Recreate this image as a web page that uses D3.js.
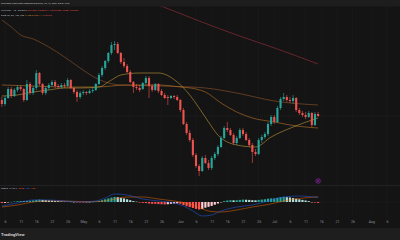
<!DOCTYPE html>
<html>
<head>
<meta charset="utf-8">
<script src="https://d3js.org/d3.v7.min.js"></script>
<style>
  html, body { margin: 0; padding: 0; background: #141414; }
  svg { display: block; font-family: Roboto, "Noto Sans", sans-serif; }
</style>
</head>
<body>
<svg id="chart" width="400" height="240"></svg>
<script>
// daily candles, first one on this day
var firstDay = "2024-04-05";

// [open, high, low, close]
var candles = [
  [76, 76.75, 74.25, 75], [75, 77, 74.5, 76.5], [76.5, 79.25, 76.25, 78.75], [78.75, 79.25, 76.5, 77],
  [77, 79, 76.75, 78.5], [78.5, 79.75, 78, 79.25], [79.25, 79.75, 78.25, 78.75], [78.75, 79, 75.5, 76],
  [76, 81, 75.75, 80], [80, 80.5, 77.25, 77.75], [77.75, 79.5, 77.25, 79], [79, 83.5, 78.5, 82.75],
  [82.75, 83, 79.5, 80], [80, 80.25, 77.25, 77.75], [77.75, 79.5, 77.25, 79], [79, 80.25, 78.5, 79.75],
  [79.75, 81, 79.25, 80.5], [80.5, 81, 79, 79.5], [79.5, 80, 78.75, 79.25], [79.25, 80.25, 78.75, 79.75],
  [79.75, 80.25, 79, 79.5], [79.5, 81.5, 79.25, 81], [81, 81.25, 78.75, 79], [79, 79.25, 77.5, 78],
  [78, 78.5, 75.5, 76.75], [76.75, 78.25, 76.25, 77.75], [77.75, 78.5, 77.25, 78], [78, 78.25, 77.25, 77.75],
  [77.75, 78.75, 77.5, 78.25], [78.25, 79, 77.75, 78.5], [78.5, 80.25, 78.25, 80], [80, 82.75, 79.75, 82.25],
  [82.25, 84.5, 81.75, 84], [84, 86, 83.5, 85.75], [85.75, 88, 85.25, 87.75], [87.75, 90.5, 87.25, 89.75],
  [89.75, 90.75, 88.5, 90], [90, 90.5, 87.5, 87.75], [87.75, 88, 85, 85.5], [85.5, 86.5, 84, 84.5],
  [84.5, 85, 82.75, 83], [83, 83.5, 80.25, 80.5], [80.5, 80.75, 77.75, 79.25], [79.25, 80, 78.5, 79],
  [79, 79.75, 78, 78.5], [78.75, 80.5, 78.5, 80.25], [80.25, 82, 79.75, 81.5], [81.5, 82, 76.5, 79.5],
  [79.5, 80, 78, 78.5], [78.5, 80.25, 78.25, 80], [80, 80.25, 77.75, 78.25], [78.25, 78.75, 77, 77.25],
  [77.25, 77.75, 76.25, 76.5], [76.75, 77.25, 74.75, 76.5], [76.5, 77.25, 76.25, 77], [77, 77.25, 76.25, 76.75],
  [76.75, 77.25, 75.75, 76], [76, 76.25, 73, 73.5], [73.5, 74, 69.75, 70], [70, 70.5, 67.25, 67.75],
  [67.75, 68.5, 65.5, 66], [66, 66.5, 61.75, 62.25], [62.25, 62.75, 59, 59.5], [59.5, 60, 57, 58.25],
  [58.25, 62, 58, 61.5], [61.5, 62.25, 60, 60.25], [60.25, 61, 58.5, 59], [59, 62, 58.5, 61.5],
  [61.5, 63, 61, 62.5], [62.5, 64.75, 62, 64.25], [64.25, 67, 64, 66.5], [66.5, 69.5, 66.25, 69],
  [69, 70.5, 68, 68.5], [68.5, 69, 67, 67.25], [67.25, 67.75, 64.75, 65.25], [65.25, 67, 64.75, 66.5],
  [66.5, 69, 66.25, 68.5], [68.5, 69, 67, 67.5], [67.5, 68, 65.75, 66], [66, 66.5, 64.25, 64.75],
  [64.75, 65.25, 60.25, 63], [63, 63.75, 62, 62.5], [62.5, 66.5, 62.25, 66], [66, 67.25, 65.25, 66.75],
  [66.75, 68, 66.25, 67.5], [67.5, 70.5, 67, 70], [70, 72.25, 69.5, 71.75], [71.75, 72.25, 70, 70.5],
  [70.5, 74.5, 70.25, 74], [74, 76.75, 73.5, 76.25], [76.25, 77.75, 75.75, 76.75], [76.75, 77.25, 75.5, 76],
  [76, 76.75, 75.25, 75.75], [75.75, 77.25, 75, 76.5], [76.5, 76.75, 73, 73.5], [73.5, 74, 72.25, 72.75],
  [72.75, 73.25, 71.75, 72.25], [72.25, 73, 71.25, 71.75], [71.75, 73.25, 71.5, 72.75], [72.75, 73, 69.25, 69.75],
  [69.75, 73, 69.5, 72.5], [72.5, 73, 71.75, 72]
];

// moving averages: [day index, value]
var ema20 = [[0, 77], [5, 77.25], [10, 78], [15, 78.5], [20, 79], [25, 79], [31, 79.25], [35, 81], [38, 82.25],
  [44, 82.75], [50, 82.75], [56, 80.5], [60, 77.25], [63, 74], [66, 70.5], [69, 67.25], [75, 64.75],
  [81, 64.25], [86, 66.75], [93, 69.25], [101, 71.5]];
var ema50 = [[0, 79.75], [10, 79.5], [20, 79.25], [30, 79.25], [40, 79.75], [50, 79.75], [57, 79.25],
  [62, 78.75], [65, 78], [70, 75.25], [75, 73], [80, 71.5], [87, 70.5], [94, 69.5], [101, 69]];
var ema100 = [[0, 96], [3, 94.25], [6, 92.25], [10, 91.25], [15, 89.25], [20, 86.75], [25, 84], [30, 81.5],
  [33, 80.5], [38, 79.75], [45, 79.6], [55, 79.4], [65, 79], [75, 77.75], [87, 75.75], [101, 74.75]];
var ema200 = [[40, 102.5], [50, 99.75], [63, 95.75], [75, 92.25], [88, 88.75], [101, 85]];

// MACD pane
var macdLine = [[0, -1.33], [5, -0.33], [10, 0.67], [15, 0.67], [20, 0.33], [25, 0], [30, 0.33], [33, 1.33],
  [36, 2.67], [40, 2.33], [45, 1], [50, 0.33], [55, -0.33], [58, -1.33], [61, -3], [64, -4.67], [67, -4.33],
  [70, -3], [75, -1.67], [80, -1], [85, 0.33], [90, 1.67], [95, 2], [101, 1.5]];
var signalLine = [[0, -1.67], [5, -1], [10, 0], [15, 0.33], [20, 0.33], [25, 0.17], [30, 0.17], [33, 0.33],
  [36, 1], [40, 1.67], [45, 1.67], [50, 1], [55, 0.33], [58, -0.17], [61, -1], [64, -2.33], [67, -3.17],
  [70, -3.33], [75, -2.67], [80, -1.67], [85, -0.83], [90, 0.33], [95, 1.17], [101, 1.75]];
var histogram = [-0.35, -0.3, -0.15, 0.05, 0.15, 0.25, 0.3, 0.25, 0.35, 0.4, 0.5, 0.7, 0.8, 0.7, 0.6, 0.5,
  0.45, 0.35, 0.3, 0.2, 0.15, 0.15, 0.1, 0, -0.1, -0.15, -0.15, -0.1, -0.05, 0, 0.1, 0.3, 0.6, 0.9, 1.2,
  1.5, 1.7, 1.6, 1.4, 1.2, 0.9, 0.6, 0.3, 0.1, -0.2, -0.3, -0.35, -0.5, -0.6, -0.6, -0.7, -0.75, -0.8,
  -0.75, -0.6, -0.5, -0.45, -0.6, -1, -1.4, -1.7, -2, -2.3, -2.5, -2.3, -1.9, -1.6, -1.3, -0.9, -0.5,
  -0.1, 0.3, 0.5, 0.6, 0.55, 0.6, 0.7, 0.8, 0.75, 0.7, 0.6, 0.55, 0.7, 0.8, 0.9, 1.1, 1.2, 1.2, 1.4,
  1.6, 1.7, 1.6, 1.5, 1.3, 1.1, 0.9, 0.7, 0.5, 0.3, 0, -0.2, -0.3];

// time axis
var tickDates = ["2024-04-06", "2024-04-11", "2024-04-16", "2024-04-21", "2024-04-26", "2024-05-01",
  "2024-05-06", "2024-05-11", "2024-05-16", "2024-05-21", "2024-05-26", "2024-06-01", "2024-06-06",
  "2024-06-11", "2024-06-16", "2024-06-21", "2024-06-26", "2024-07-01", "2024-07-06", "2024-07-11",
  "2024-07-16", "2024-07-21", "2024-07-26", "2024-08-01", "2024-08-06"];
var tickLabels = ["6", "11", "16", "21", "26", "May", "6", "11", "16", "21", "26", "Jun", "6", "11", "16",
  "21", "26", "Jul", "6", "11", "16", "21", "26", "Aug", "6"];

var upColor = "#26a69a", downColor = "#ef5350";

var svg = d3.select("#chart");
var start = new Date(firstDay);
function day(i) { return d3.utcDay.offset(start, i); }

var x = d3.scaleUtc()
  .domain([new Date("2024-04-06"), new Date("2024-08-06")])
  .range([5, 387]);
var y = d3.scaleLinear().domain([51, 101]).range([200, 0]);
var m = d3.scaleLinear().domain([-5.5, 3]).range([218.5, 193]);

// background bands
svg.append("rect").attr("width", 400).attr("height", 240).attr("fill", "#141414");
svg.append("rect").attr("width", 400).attr("height", 6.5).attr("fill", "#1d1d1d");
svg.append("rect").attr("y", 228).attr("width", 400).attr("height", 12).attr("fill", "#1e1e1e");

// grid
svg.append("g").selectAll("line")
  .data(tickDates)
  .enter().append("line")
  .attr("x1", function(d) { return x(new Date(d)); })
  .attr("x2", function(d) { return x(new Date(d)); })
  .attr("y1", 6.5).attr("y2", 217)
  .attr("stroke", "#1b1b1b").attr("stroke-width", 0.6);

// pane separator + macd zero
svg.append("line").attr("x1", 0).attr("x2", 400).attr("y1", 185.5).attr("y2", 185.5)
  .attr("stroke", "#262626").attr("stroke-width", 0.8);
svg.append("line").attr("x1", 0).attr("x2", 400).attr("y1", m(0)).attr("y2", m(0))
  .attr("stroke", "#2c2c2c").attr("stroke-width", 0.5).attr("stroke-dasharray", "1,1");

// main pane
svg.append("clipPath").attr("id", "mainClip")
  .append("rect").attr("x", 0).attr("y", 6.5).attr("width", 400).attr("height", 178.5);
var main = svg.append("g").attr("clip-path", "url(#mainClip)");

// last price line
var last = candles[candles.length - 1];
main.append("line").attr("x1", 0).attr("x2", 400).attr("y1", y(last[3])).attr("y2", y(last[3]))
  .attr("stroke", "#2a2a2a").attr("stroke-width", 0.6).attr("stroke-dasharray", "1,1");

function maLine(scale) {
  return d3.line()
    .x(function(d) { return x(day(d[0])); })
    .y(function(d) { return scale(d[1]); })
    .curve(d3.curveMonotoneX);
}

var maStyles = [
  [ema200, "#a8323e"],
  [ema100, "#9c5a2c"],
  [ema50, "#c77a2a"],
  [ema20, "#c9a33a"]
];
maStyles.forEach(function(s) {
  main.append("path").datum(s[0])
    .attr("d", maLine(y))
    .attr("fill", "none")
    .attr("stroke", s[1])
    .attr("stroke-width", 0.7)
    .attr("opacity", 0.8);
});

var bodyW = 2.1;
var bars = main.selectAll("g.candle")
  .data(candles)
  .enter().append("g")
  .attr("transform", function(d, i) { return "translate(" + x(day(i)) + ",0)"; });

bars.append("line")
  .attr("x1", 0).attr("x2", 0)
  .attr("y1", function(d) { return y(d[1]); })
  .attr("y2", function(d) { return y(d[2]); })
  .attr("stroke", function(d) { return d[3] >= d[0] ? upColor : downColor; })
  .attr("stroke-width", 0.6);

bars.append("rect")
  .attr("x", -bodyW / 2)
  .attr("width", bodyW)
  .attr("y", function(d) { return y(Math.max(d[0], d[3])); })
  .attr("height", function(d) { return Math.max(0.8, Math.abs(y(d[0]) - y(d[3]))); })
  .attr("fill", function(d) { return d[3] >= d[0] ? upColor : downColor; });

// event marker
var mark = svg.append("g").attr("transform", "translate(" + x(day(candles.length - 1)) + ",181)");
mark.append("circle").attr("r", 2.3).attr("fill", "#2a1533").attr("stroke", "#9c27b0").attr("stroke-width", 0.6);
mark.append("circle").attr("r", 0.8).attr("fill", "#9c27b0");

// macd histogram
svg.append("g").selectAll("rect")
  .data(histogram)
  .enter().append("rect")
  .attr("x", function(d, i) { return x(day(i)) - 1.1; })
  .attr("width", 2.2)
  .attr("y", function(d) { return Math.min(m(d), m(0)); })
  .attr("height", function(d) { return Math.max(0.4, Math.abs(m(d) - m(0))); })
  .attr("fill", function(d, i) {
    var prev = i > 0 ? histogram[i - 1] : d;
    if (d >= 0) return d >= prev ? "#26a69a" : "#b2dfdb";
    return d <= prev ? "#ff5252" : "#ffcdd2";
  });

svg.append("path").datum(signalLine)
  .attr("d", maLine(m)).attr("fill", "none").attr("stroke", "#ff6d00").attr("stroke-width", 0.6).attr("opacity", 0.8);
svg.append("path").datum(macdLine)
  .attr("d", maLine(m)).attr("fill", "none").attr("stroke", "#2962ff").attr("stroke-width", 0.6).attr("opacity", 0.8);

// time axis
var axis = svg.append("g")
  .attr("transform", "translate(0,219)")
  .call(d3.axisBottom(x)
    .tickValues(tickDates.map(function(d) { return new Date(d); }))
    .tickFormat(function(d, i) { return tickLabels[i]; })
    .tickSize(0)
    .tickPadding(1));
axis.select(".domain").remove();
axis.selectAll("text")
  .attr("fill", "#8b8e96")
  .attr("font-size", 3.6)
  .attr("font-family", "Roboto, sans-serif");

// legend texts
function legend(yPos, size, parts) {
  var t = svg.append("text").attr("x", 1).attr("y", yPos).attr("font-size", size);
  parts.forEach(function(p) {
    t.append("tspan").attr("fill", p[1]).text(p[0]);
  });
}
legend(4.3, 2.5, [["LTCUSDT chart with TradingView.com, Jul 16, 2024 03:51 UTC", "#c8c8c8"]]);
legend(11, 2.5, [["LTCUSDT · 1D · Binance  ", "#b2b5be"],
  ["O72.50 H73.00 L71.75 C72.00 −0.50 (−0.69%)", "#ef5350"]]);
legend(16, 2.5, [["EMA 20, 50, 100, 200  ", "#b2b5be"], ["71.50 ", "#c9a33a"], ["69.00 ", "#c77a2a"],
  ["74.75 ", "#9c5a2c"], ["85.00", "#d0404e"]]);
legend(188.5, 2.5, [["MACD 12 26 9  ", "#b2b5be"], ["−0.30 ", "#ff5252"], ["1.50 ", "#2962ff"],
  ["1.75", "#ff6d00"]]);

// watermark in the bottom bar
svg.append("text").attr("x", 1).attr("y", 235.5)
  .attr("font-size", 4.2).attr("font-weight", "bold").attr("fill", "#d0d0d0")
  .text("TradingView");
</script>
</body>
</html>
